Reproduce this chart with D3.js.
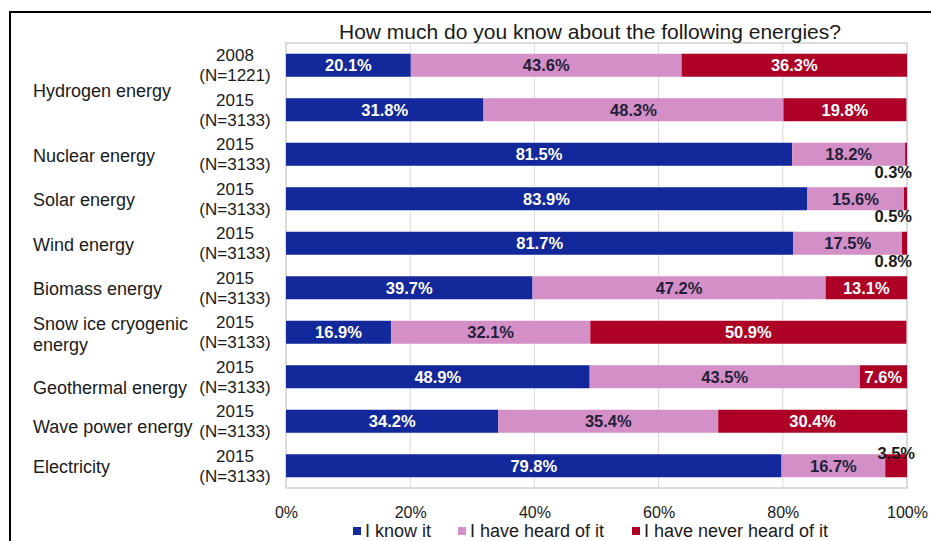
<!DOCTYPE html>
<html>
<head>
<meta charset="utf-8">
<script src="https://cdn.jsdelivr.net/npm/d3@7/dist/d3.min.js"></script>
<style>
  html, body { margin: 0; padding: 0; background: #fff; }
  svg { display: block; font-family: "Liberation Sans", Arial, sans-serif; }
</style>
</head>
<body>
<svg id="chart" width="931" height="541"></svg>
<script>
// Survey answers, one row per bar (percent of respondents)
const rowYears = ["2008", "2015", "2015", "2015", "2015", "2015", "2015", "2015", "2015", "2015"];
const rowSamples = ["(N=1221)", "(N=3133)", "(N=3133)", "(N=3133)", "(N=3133)", "(N=3133)", "(N=3133)", "(N=3133)", "(N=3133)", "(N=3133)"];
const knowIt = [20.1, 31.8, 81.5, 83.9, 81.7, 39.7, 16.9, 48.9, 34.2, 79.8];
const heardOfIt = [43.6, 48.3, 18.2, 15.6, 17.5, 47.2, 32.1, 43.5, 35.4, 16.7];
const neverHeard = [36.3, 19.8, 0.3, 0.5, 0.8, 13.1, 50.9, 7.6, 30.4, 3.5];

// Energy names and which bar rows each one labels
const energyNames = [["Hydrogen energy"], ["Nuclear energy"], ["Solar energy"], ["Wind energy"],
  ["Biomass energy"], ["Snow ice cryogenic", "energy"], ["Geothermal energy"],
  ["Wave power energy"], ["Electricity"]];
const energyRows = [[0, 1], [2], [3], [4], [5], [6], [7], [8], [9]];

const seriesNames = ["I know it", "I have heard of it", "I have never heard of it"];
const seriesColors = ["#13289a", "#d38fc6", "#ae0026"];
const seriesText = ["#ffffff", "#231f3a", "#ffffff"];

const tickValues = [0, 20, 40, 60, 80, 100];
const titleText = "How much do you know about the following energies?";

// ---- layout ----
const plot = { left: 286, right: 907, top: 43, bottom: 488 };
const nameNudge = { "Geothermal energy": 10, "Wave power energy": 4, "Hydrogen energy": 2 };

const svg = d3.select("#chart");

// outer frame
svg.append("rect")
  .attr("x", 10).attr("y", 12).attr("width", 960).attr("height", 600)
  .attr("fill", "none").attr("stroke", "#000").attr("stroke-width", 2);

const x = d3.scaleLinear().domain([0, 100]).range([plot.left, plot.right]);
const y = d3.scaleBand().domain(d3.range(rowYears.length))
  .range([plot.top, plot.bottom]).paddingInner(0.483).paddingOuter(0.2415);

// plot area border and gridlines
svg.append("rect")
  .attr("x", plot.left).attr("y", plot.top)
  .attr("width", plot.right - plot.left).attr("height", plot.bottom - plot.top)
  .attr("fill", "none").attr("stroke", "#b8b8b8").attr("stroke-width", 1);

svg.append("g").selectAll("line")
  .data(tickValues.slice(1, -1))
  .join("line")
  .attr("x1", d => x(d)).attr("x2", d => x(d))
  .attr("y1", plot.top).attr("y2", plot.bottom)
  .attr("stroke", "#d9d9d9").attr("stroke-width", 1);

// stacked series
const rows = d3.range(rowYears.length).map(i => ({ i, k: knowIt[i], h: heardOfIt[i], n: neverHeard[i] }));
const stack = d3.stack().keys(["k", "h", "n"]);
const layers = stack(rows);

const layerG = svg.append("g").selectAll("g")
  .data(layers)
  .join("g")
  .attr("fill", (d, j) => seriesColors[j]);

layerG.selectAll("rect")
  .data(d => d)
  .join("rect")
  .attr("x", d => x(d[0]))
  .attr("y", d => y(d.data.i))
  .attr("width", d => x(d[1]) - x(d[0]))
  .attr("height", y.bandwidth());

// value labels
const labelG = svg.append("g")
  .attr("font-weight", "bold").attr("font-size", "16.5px");

layers.forEach((layer, j) => {
  layer.forEach(d => {
    const v = d[1] - d[0];
    const txt = v.toFixed(1) + "%";
    const yc = y(d.data.i) + y.bandwidth() / 2;
    if (v >= 2) {
      labelG.append("text")
        .attr("x", x((d[0] + d[1]) / 2)).attr("y", yc).attr("dy", "0.35em")
        .attr("text-anchor", "middle")
        .attr("fill", seriesText[j])
        .text(txt);
    } else {
      // thin slivers get their label just outside the bar, below it
      labelG.append("text")
        .attr("x", x(100) + 5).attr("y", y(d.data.i) + y.bandwidth() + 6).attr("dy", "0.35em")
        .attr("text-anchor", "end")
        .attr("fill", "#1a1a1a")
        .text(txt);
    }
  });
});
// the 3.5% sliver label sits above its bar
labelG.selectAll("text").filter(function () { return this.textContent === "3.5%"; })
  .attr("x", x(100) + 8).attr("text-anchor", "end").attr("fill", "#1a1a1a")
  .attr("y", function () { return y(9) - 1; });

// year / sample size labels
const rowLab = svg.append("g").attr("font-size", "17px").attr("fill", "#1a1a1a")
  .attr("text-anchor", "middle");
d3.range(rowYears.length).forEach(i => {
  const yc = y(i) + y.bandwidth() / 2;
  rowLab.append("text").attr("x", 235).attr("y", yc - 10).attr("dy", "0.35em").text(rowYears[i]);
  rowLab.append("text").attr("x", 235).attr("y", yc + 10).attr("dy", "0.35em").text(rowSamples[i]);
});

// energy names
const nameG = svg.append("g").attr("font-size", "18px").attr("fill", "#1a1a1a");
energyNames.forEach((lines, k) => {
  const rs = energyRows[k];
  const yc = d3.mean(rs, r => y(r) + y.bandwidth() / 2) + 1 + (nameNudge[lines[0]] || 0);
  const t = nameG.append("text").attr("x", 33).attr("y", yc - (lines.length - 1) * 10);
  lines.forEach((ln, li) => {
    t.append("tspan").attr("x", 33).attr("dy", li === 0 ? "0.35em" : "21px").text(ln);
  });
});

// x axis tick labels
const axis = d3.axisBottom(x).tickValues(tickValues).tickFormat(d => d + "%").tickSize(0).tickPadding(0);
const axG = svg.append("g").attr("transform", `translate(0,${plot.bottom})`).call(axis);
axG.select(".domain").remove();
axG.selectAll("text")
  .attr("font-family", "\"Liberation Sans\", Arial, sans-serif")
  .attr("font-size", "16px").attr("fill", "#1a1a1a")
  .attr("y", 24).attr("dy", "0.35em");

// title
svg.append("text")
  .attr("x", 590).attr("y", 32).attr("dy", "0.35em")
  .attr("text-anchor", "middle").attr("font-size", "21px").attr("fill", "#1a1a1a")
  .text(titleText);

// legend
const legendX = [353, 458, 632];
const legG = svg.append("g").attr("font-size", "18px").attr("fill", "#1a1a1a");
seriesNames.forEach((name, j) => {
  legG.append("rect").attr("x", legendX[j]).attr("y", 527).attr("width", 8).attr("height", 8)
    .attr("fill", seriesColors[j]);
  legG.append("text").attr("x", legendX[j] + 12).attr("y", 531).attr("dy", "0.35em").text(name);
});
</script>
</body>
</html>
